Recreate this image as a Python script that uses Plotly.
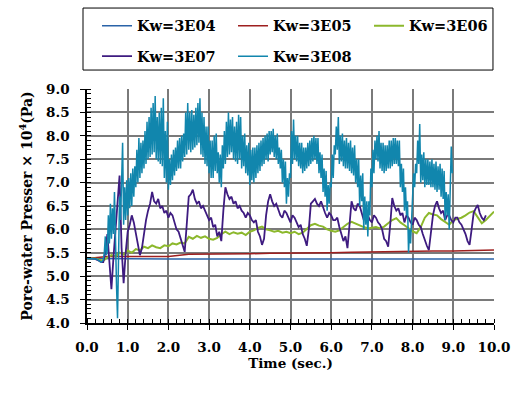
import plotly.graph_objects as go

# ---------------- data ----------------
names = ["Kw=3E04", "Kw=3E05", "Kw=3E06", "Kw=3E07", "Kw=3E08"]
colors = ["#2a63a8", "#9e1f1f", "#8cb82c", "#3e1b80", "#1186ad"]

# Kw=3E04, sampled every 1.0 s
kw3e04_dt = 1.0
kw3e04 = [5.38, 5.37, 5.37, 5.37, 5.37, 5.37, 5.37, 5.37, 5.37, 5.37, 5.37]

# Kw=3E05, sampled every 0.5 s
kw3e05_dt = 0.5
kw3e05 = [5.38, 5.42, 5.42, 5.42, 5.42, 5.47, 5.47, 5.48, 5.48, 5.49, 5.49,
          5.50, 5.50, 5.51, 5.52, 5.52, 5.53, 5.54, 5.54, 5.55, 5.56]

# Kw=3E06, sampled every 0.1 s
kw3e06_dt = 0.1
kw3e06 = [5.38, 5.38, 5.38, 5.35, 5.33, 5.40, 5.45, 5.42, 5.50, 5.46,
          5.55, 5.50, 5.58, 5.55, 5.63, 5.60, 5.66, 5.62, 5.60, 5.66,
          5.64, 5.70, 5.68, 5.72, 5.70, 5.84, 5.80, 5.86, 5.82, 5.85,
          5.80, 5.78, 5.82, 5.90, 5.95, 5.90, 5.94, 5.91, 5.93, 5.88,
          5.95, 5.98, 6.03, 6.06, 6.00, 5.98, 5.95, 5.97, 5.93, 5.95,
          5.92, 5.95, 5.90, 5.93, 6.02, 6.09, 6.12, 6.08, 6.06, 6.00,
          5.97, 5.95, 5.98, 6.05, 6.12, 6.16, 6.12, 6.08, 6.05, 6.02,
          6.04, 6.05, 6.02, 6.06, 6.13, 6.20, 6.24, 6.15, 6.09, 6.02,
          5.96, 5.92, 6.05, 6.25, 6.35, 6.32, 6.30, 6.22, 6.16, 6.10,
          6.20, 6.22, 6.25, 6.30, 6.36, 6.39, 6.25, 6.13, 6.20, 6.30,
          6.38]

# Kw=3E07, sampled every 0.05 s
kw3e07_dt = 0.05
kw3e07 = [5.38, 5.38, 5.38, 5.38, 5.37, 5.35, 5.32, 5.30, 5.30, 5.50,
          5.90, 5.30, 4.72, 5.40, 6.00, 6.60, 7.15, 5.60, 4.85, 5.50,
          5.95, 6.10, 6.30, 6.15, 5.90, 5.70, 5.45, 5.60, 5.95, 6.20,
          6.40, 6.55, 6.80, 6.60, 6.55, 6.65, 6.45, 6.50, 6.35, 6.40,
          6.25, 6.35, 6.30, 6.15, 6.00, 5.95, 5.80, 5.65, 5.52, 6.10,
          6.70, 6.75, 6.85, 6.65, 6.55, 6.60, 6.45, 6.50, 6.40, 6.30,
          6.20, 6.25, 6.05, 6.10, 5.85, 5.95, 5.75, 6.40, 6.90, 6.75,
          6.65, 6.70, 6.55, 6.60, 6.45, 6.50, 6.40, 6.35, 6.25, 6.35,
          6.30, 6.20, 6.15, 6.20, 5.95, 5.85, 5.67, 5.80, 6.30, 6.60,
          6.75, 6.60, 6.50, 6.55, 6.40, 6.30, 6.25, 6.40, 6.35, 6.25,
          6.15, 6.30, 6.25, 6.15, 6.05, 6.10, 5.90, 5.80, 5.65, 6.00,
          6.55, 6.60, 6.65, 6.55, 6.50, 6.60, 6.45, 6.35, 6.25, 6.35,
          6.30, 6.20, 6.20, 6.25, 6.05, 5.90, 5.75, 5.85, 5.60, 6.10,
          6.60, 6.45, 6.40, 6.55, 6.50, 6.35, 6.20, 6.35, 6.30, 6.20,
          6.15, 6.30, 6.25, 6.15, 6.10, 6.00, 5.80, 5.75, 5.63, 6.10,
          6.67, 6.50, 6.40, 6.45, 6.30, 6.35, 6.15, 6.30, 6.25, 6.15,
          6.10, 6.25, 6.20, 6.10, 6.05, 5.90, 5.75, 5.65, 5.56, 5.90,
          6.30, 6.50, 6.60, 6.45, 6.35, 6.40, 6.20, 6.30, 6.30, 6.20,
          6.15, 6.25, 6.25, 6.15, 6.10, 6.00, 5.90, 5.75, 5.67, 6.00,
          6.35, 6.45, 6.52, 6.35, 6.25, 6.20, 6.30]

# Kw=3E08, sampled every 0.025 s
kw3e08_dt = 0.025
kw3e08 = [
    5.38, 5.38, 5.37, 5.38,  5.38, 5.37, 5.37, 5.38,  5.38, 5.37, 5.36, 5.35,
    5.33, 5.31, 5.30, 5.32,  5.35, 5.50, 5.85, 5.45,  5.55, 6.30, 5.70, 6.55,
    5.80, 6.45, 5.90, 6.80,  5.60, 4.80, 4.10, 5.90,  6.70, 6.20, 7.50, 7.85,
    6.10, 6.90, 6.20, 7.05,  6.30, 7.10, 6.45, 7.20,  6.50, 7.30, 6.70, 7.35,
    6.90, 7.70, 7.00, 7.95,  7.10, 7.85, 7.20, 7.90,  7.30, 8.10, 7.40, 8.30,
    7.50, 8.40, 7.55, 8.60,  7.60, 8.70, 7.65, 8.85,  7.50, 8.40, 7.45, 8.50,
    7.40, 8.60, 7.35, 8.80,  7.10, 8.10, 7.00, 8.30,  6.85, 7.50, 6.95, 7.60,
    7.05, 7.70, 7.15, 7.75,  7.25, 7.90, 7.30, 7.95,  7.30, 8.00, 7.45, 8.05,
    7.55, 8.50, 7.60, 8.70,  7.70, 8.50, 7.65, 8.55,  7.70, 8.45, 7.75, 8.60,
    7.80, 8.70, 7.85, 8.80,  7.60, 8.50, 7.55, 8.40,  7.40, 8.20, 7.35, 8.20,
    7.20, 7.90, 7.10, 7.90,  7.10, 8.00, 7.25, 8.05,  7.20, 7.65, 7.00, 7.60,
    6.90, 7.80, 7.30, 8.10,  7.40, 8.30, 7.55, 8.50,  7.60, 8.35, 7.65, 8.40,
    7.50, 8.20, 7.45, 8.30,  7.40, 8.45, 7.50, 8.40,  7.30, 8.00, 7.35, 8.05,
    7.20, 7.80, 7.15, 7.85,  6.95, 7.70, 7.05, 7.75,  7.00, 7.75, 7.10, 7.80,
    7.20, 7.85, 7.25, 7.90,  7.35, 7.95, 7.40, 8.00,  7.50, 8.05, 7.45, 8.10,
    7.60, 8.10, 7.65, 8.15,  7.55, 8.00, 7.50, 8.05,  7.40, 7.75, 7.30, 7.70,
    7.00, 7.50, 6.90, 7.45,  6.55, 7.10, 6.70, 7.20,  7.10, 8.10, 7.40, 8.35,
    7.50, 8.00, 7.45, 8.00,  7.35, 7.85, 7.30, 7.85,  7.20, 7.75, 7.25, 7.75,
    7.30, 7.85, 7.35, 7.90,  7.40, 7.95, 7.45, 8.00,  7.50, 7.95, 7.40, 7.95,
    7.20, 7.65, 7.10, 7.60,  6.80, 7.30, 6.70, 7.25,  6.40, 6.95, 6.55, 7.00,
    6.90, 7.60, 7.10, 7.80,  7.60, 8.20, 7.70, 8.40,  7.40, 8.00, 7.45, 8.05,
    7.35, 7.90, 7.30, 7.95,  7.30, 7.85, 7.25, 7.90,  7.20, 7.75, 7.15, 7.80,
    7.00, 7.50, 6.90, 7.50,  6.50, 7.15, 6.60, 7.20,  6.00, 6.70, 6.10, 6.60,
    5.85, 6.60, 6.30, 7.30,  6.90, 7.70, 7.20, 7.90,  7.50, 8.00, 7.45, 8.10,
    7.30, 7.85, 7.25, 7.85,  7.20, 7.80, 7.25, 7.80,  7.30, 7.90, 7.30, 7.90,
    7.35, 7.95, 7.40, 7.95,  7.40, 7.90, 7.35, 7.90,  6.90, 7.40, 6.80, 7.30,
    6.40, 6.90, 6.30, 6.60,  5.50, 6.00, 5.70, 6.20,  6.60, 7.20, 6.90, 7.40,
    7.20, 7.90, 7.40, 8.25,  7.00, 7.60, 7.05, 7.65,  6.90, 7.50, 6.95, 7.50,
    6.95, 7.45, 6.90, 7.50,  6.90, 7.40, 6.85, 7.45,  6.80, 7.35, 6.85, 7.40,
    6.70, 7.30, 6.65, 7.25,  6.20, 6.80, 6.30, 6.75,  6.00, 6.90, 7.77, 7.20,
]

series = [(kw3e04, kw3e04_dt), (kw3e05, kw3e05_dt), (kw3e06, kw3e06_dt),
          (kw3e07, kw3e07_dt), (kw3e08, kw3e08_dt)]
widths = [1.5, 1.5, 2.0, 1.8, 1.5]
legend_ids = ["legend", "legend", "legend", "legend2", "legend2"]

x_ticks = [0, 1, 2, 3, 4, 5, 6, 7, 8, 9, 10]
y_ticks = [4.0, 4.5, 5.0, 5.5, 6.0, 6.5, 7.0, 7.5, 8.0, 8.5, 9.0]

FONT = "DejaVu Serif"

fig = go.Figure()
for name, color, (vals, dt), w, lg in zip(names, colors, series, widths, legend_ids):
    t = [round(i * dt, 3) for i in range(len(vals))]
    fig.add_trace(go.Scatter(x=t, y=vals, mode="lines", name=name,
                             line=dict(color=color, width=w), legend=lg))

axis_common = dict(
    showgrid=True, gridcolor="#7a7a7a", gridwidth=1.5,
    showline=True, linecolor="black", linewidth=1.5,
    ticks="outside", ticklen=5, tickcolor="black", tickwidth=1,
    tickfont=dict(family=FONT, size=13.5, color="black", weight="bold"),
    zeroline=False,
)

fig.update_xaxes(range=[0, 10], tickvals=x_ticks, tickformat=".1f",
                 minor=dict(dtick=0.2, ticks="inside", ticklen=4, tickcolor="black", showgrid=False),
                 title=dict(text="Time (sec.)", standoff=4,
                            font=dict(family=FONT, size=13.5, color="black", weight="bold")),
                 ticklabelstandoff=6, **axis_common)
fig.update_yaxes(range=[4, 9], tickvals=y_ticks, tickformat=".1f",
                 minor=dict(dtick=0.1, ticks="inside", ticklen=4, tickcolor="black", showgrid=False),
                 title=dict(text="Pore-water Presser × 10<sup>4</sup>(Pa)", standoff=10,
                            font=dict(family=FONT, size=14, color="black", weight="bold")),
                 ticklabelstandoff=8, **axis_common)

legend_common = dict(orientation="h", xanchor="left", yanchor="middle",
                     entrywidth=91, entrywidthmode="pixels", borderwidth=0,
                     bgcolor="rgba(0,0,0,0)",
                     font=dict(family=FONT, size=14.5, color="black", weight="bold"))

fig.update_layout(
    width=516, height=398,
    margin=dict(l=87, r=22, t=89, b=75, autoexpand=False),
    paper_bgcolor="white", plot_bgcolor="white",
    showlegend=True,
    legend=dict(x=0.0246, y=1.27, **legend_common),
    legend2=dict(x=0.0246, y=1.14, **legend_common),
    shapes=[dict(type="rect", xref="paper", yref="paper",
                 x0=-0.0098, x1=0.9975, y0=1.081, y1=1.346,
                 line=dict(color="black", width=1), fillcolor="rgba(0,0,0,0)")],
)

fig.write_html("out.html", config={"displayModeBar": False},
               post_script="document.body.style.margin='0px';")
